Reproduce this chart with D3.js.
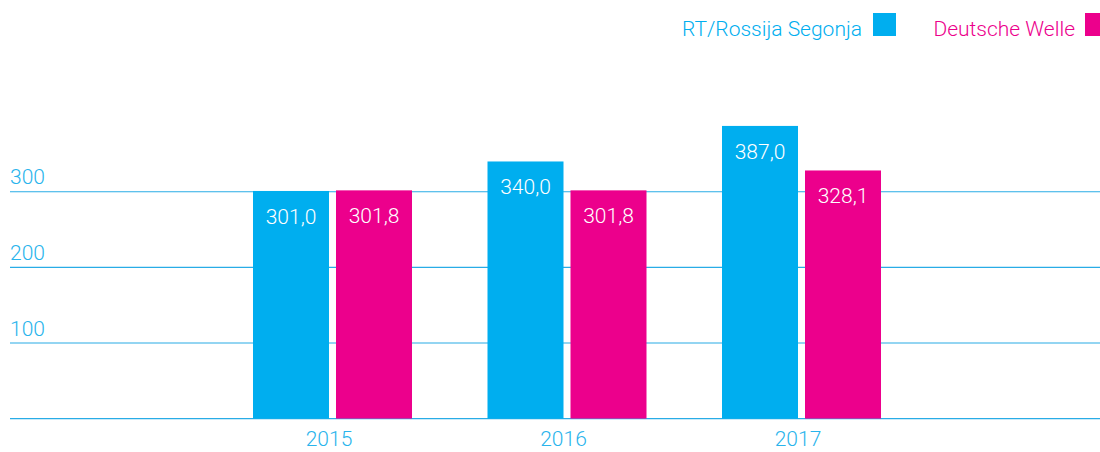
<!DOCTYPE html>
<html>
<head>
<meta charset="utf-8">
<script src="https://cdn.jsdelivr.net/npm/d3@7"></script>
<style>
  html, body { margin: 0; padding: 0; background: #fff; }
  svg { display: block; font-family: Roboto, "Noto Sans", sans-serif; font-weight: 300; }
</style>
</head>
<body>
<svg id="chart" width="1100" height="452"></svg>
<script>
const years = ["2015", "2016", "2017"];
const seriesNames = ["RT/Rossija Segonja", "Deutsche Welle"];
const rtValues = [301.0, 340.0, 387.0];
const dwValues = [301.8, 301.8, 328.1];
const yTicks = [100, 200, 300];
const colors = ["#00AEEF", "#EC008C"];

const svg = d3.select("#chart");
const W = 1100;

const y = d3.scaleLinear().domain([0, 400]).range([418.6, 116.1]);
const x = d3.scaleBand().domain(years).range([211.75, 915.25]).padding(0);
const xi = d3.scaleBand().domain(seriesNames).range([-76, 83]).paddingInner(7 / 83);

const fmt = v => d3.format(".1f")(v).replace(".", ",");

// gridlines
const grid = svg.append("g");
grid.selectAll("line").data([0].concat(yTicks)).join("line")
  .attr("x1", 10).attr("x2", W)
  .attr("y1", d => y(d)).attr("y2", d => y(d))
  .attr("stroke", "#29ACE6").attr("stroke-width", 1.1);

grid.selectAll("text").data(yTicks).join("text")
  .attr("x", 10).attr("y", d => y(d) - 7.4)
  .attr("fill", "#29B4EC").attr("font-size", 21)
  .text(d => d);

// bars
const data = years.map((yr, i) => ({ year: yr, values: [rtValues[i], dwValues[i]] }));
const groups = svg.append("g").selectAll("g").data(data).join("g")
  .attr("transform", d => `translate(${x(d.year) + x.bandwidth() / 2},0)`);

groups.selectAll("rect").data(d => d.values.map((v, j) => ({ name: seriesNames[j], v, j }))).join("rect")
  .attr("x", d => xi(d.name))
  .attr("width", xi.bandwidth())
  .attr("y", d => y(d.v))
  .attr("height", d => y(0) - y(d.v))
  .attr("fill", d => colors[d.j]);

groups.selectAll("text.val").data(d => d.values.map((v, j) => ({ name: seriesNames[j], v, j }))).join("text")
  .attr("class", "val")
  .attr("x", d => xi(d.name) + xi.bandwidth() / 2)
  .attr("y", d => y(d.v) + 33)
  .attr("text-anchor", "middle")
  .attr("fill", "#ffffff").attr("font-size", 21)
  .text(d => fmt(d.v));

// x labels
svg.append("g").selectAll("text").data(years).join("text")
  .attr("x", d => x(d) + x.bandwidth() / 2)
  .attr("y", 446)
  .attr("text-anchor", "middle")
  .attr("fill", "#29B4EC").attr("font-size", 21)
  .text(d => d);

// legend
const legendPos = [{ textEnd: 862, sq: 873 }, { textEnd: 1075, sq: 1085 }];
const lg = svg.append("g").selectAll("g").data(seriesNames).join("g");
lg.append("text")
  .attr("x", (d, i) => legendPos[i].textEnd)
  .attr("y", 35.5)
  .attr("text-anchor", "end")
  .attr("fill", (d, i) => colors[i]).attr("font-size", 21)
  .text(d => d);
lg.append("rect")
  .attr("x", (d, i) => legendPos[i].sq)
  .attr("y", 13).attr("width", 23).attr("height", 23)
  .attr("fill", (d, i) => colors[i]);
</script>
</body>
</html>
